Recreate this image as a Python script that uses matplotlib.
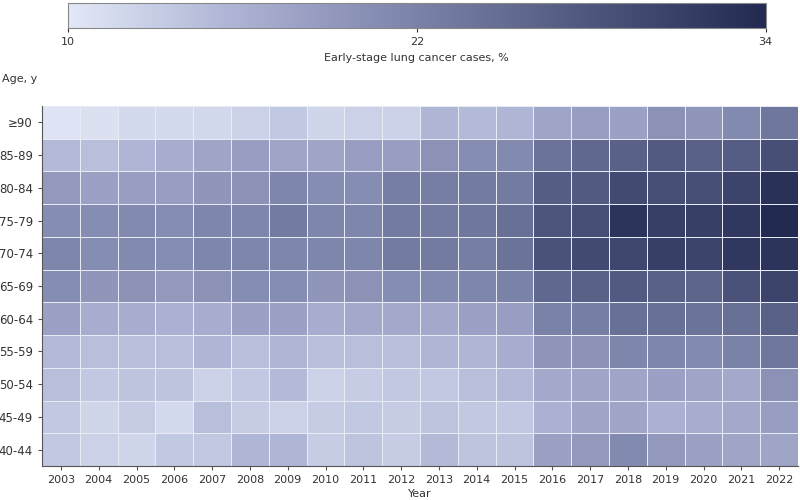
import numpy as np
import matplotlib
matplotlib.use("Agg")
import matplotlib.pyplot as plt
from matplotlib.colors import LinearSegmentedColormap

years = [str(y) for y in range(2003, 2023)]
ages = ["≥90", "85-89", "80-84", "75-79", "70-74", "65-69", "60-64", "55-59", "50-54", "45-49", "40-44"]
r_90 = [10.5,10.8,11.5,11.5,11.8,12.5,13.5,12,12.5,12.5,15.5,15,15.5,17.5,18.5,18,20,19.5,21,23.5]
r_85 = [15,14.5,15.5,16.5,17.5,18.5,17.5,17.5,18.5,18.5,20,20.5,21,24,25.5,26.5,27.5,26.5,27,29]
r_80 = [19,18,18.5,18.5,19.5,20,21.5,20.5,20.5,22.5,22.5,23,23,27,27.5,29.5,29,29,30.5,33]
r_75 = [20.5,20.5,21,20.5,21.5,21.5,23,21.5,21.5,23,23,23.5,24.5,28,29,32.5,31,31,32,34]
r_70 = [21.5,20.5,21,20.5,21.5,21.5,21.5,21.5,21.5,23,23,22.5,24,28.5,29.5,30,31,30.5,32,32.5]
r_65 = [20.5,19.5,20,19,20,20.5,20.5,19.5,20,20.5,21,21.5,22,25.5,26.5,27.5,26.5,26,28.5,30.5]
r_60 = [18,16.5,16.5,16,16.5,18,18,16.5,17,17,17,18,18.5,22,22.5,24.5,24.5,24,24.5,26.5]
r_55 = [15,14.5,14.5,14.5,15.5,14.5,15.5,14.5,14.5,14.5,15.5,15.5,16.5,19.5,20,21.5,21.5,21,22,23.5]
r_50 = [14.5,13.5,14,14,12.5,13.5,15,12.5,13,13.5,13.5,14.5,15,17,17.5,17.5,18,17.5,17,20]
r_45 = [13.5,12,13,11.5,14.5,13,12.5,13,13.5,13,14,13.5,13.5,16,17.5,17.5,16,16.5,17,18.5]
r_40 = [13.5,12.5,12,13.5,13.5,15.5,15.5,13,14,13,15,14,14,18,19,21,19,18,17.5,17.5]
data = np.array([r_90, r_85, r_80, r_75, r_70, r_65, r_60, r_55, r_50, r_45, r_40])

cmap = LinearSegmentedColormap.from_list(
    "c", [(0, "#e2e8f6"), (0.25, "#aab1d2"), (0.5, "#7b82a8"), (1, "#222a52")])

fig = plt.figure(figsize=(8, 5), dpi=100)
ax = fig.add_axes([0.0525, 0.068, 0.945, 0.72])
mesh = ax.pcolormesh(np.arange(21), np.arange(12), data, cmap=cmap, vmin=10, vmax=34,
                     edgecolor="#e8ebf3", linewidth=0.5)
ax.set_xlim(0, 20); ax.set_ylim(11, 0)
ax.set_xticks(np.arange(20) + 0.5, years, fontsize=8, color="#333333")
ax.set_yticks(np.arange(11) + 0.5, ages, fontsize=8.5, color="#333333")
ax.tick_params(length=3, color="#555555")
for s in ["top", "right"]:
    ax.spines[s].set_visible(False)
for s in ["left", "bottom"]:
    ax.spines[s].set_color("#555555")
ax.set_xlabel("Year", fontsize=8, color="#333333", labelpad=3)
fig.text(0.003, 0.835, "Age, y", fontsize=8, color="#333333", ha="left")

cax = fig.add_axes([0.085, 0.944, 0.872, 0.05])
cb = fig.colorbar(mesh, cax=cax, orientation="horizontal", ticks=[10, 22, 34])
cb.outline.set_edgecolor("#888888")
cax.tick_params(labelsize=8, colors="#333333", length=3)
cb.set_label("Early-stage lung cancer cases, %", fontsize=8, color="#333333", labelpad=4)
fig.savefig("out.png")
